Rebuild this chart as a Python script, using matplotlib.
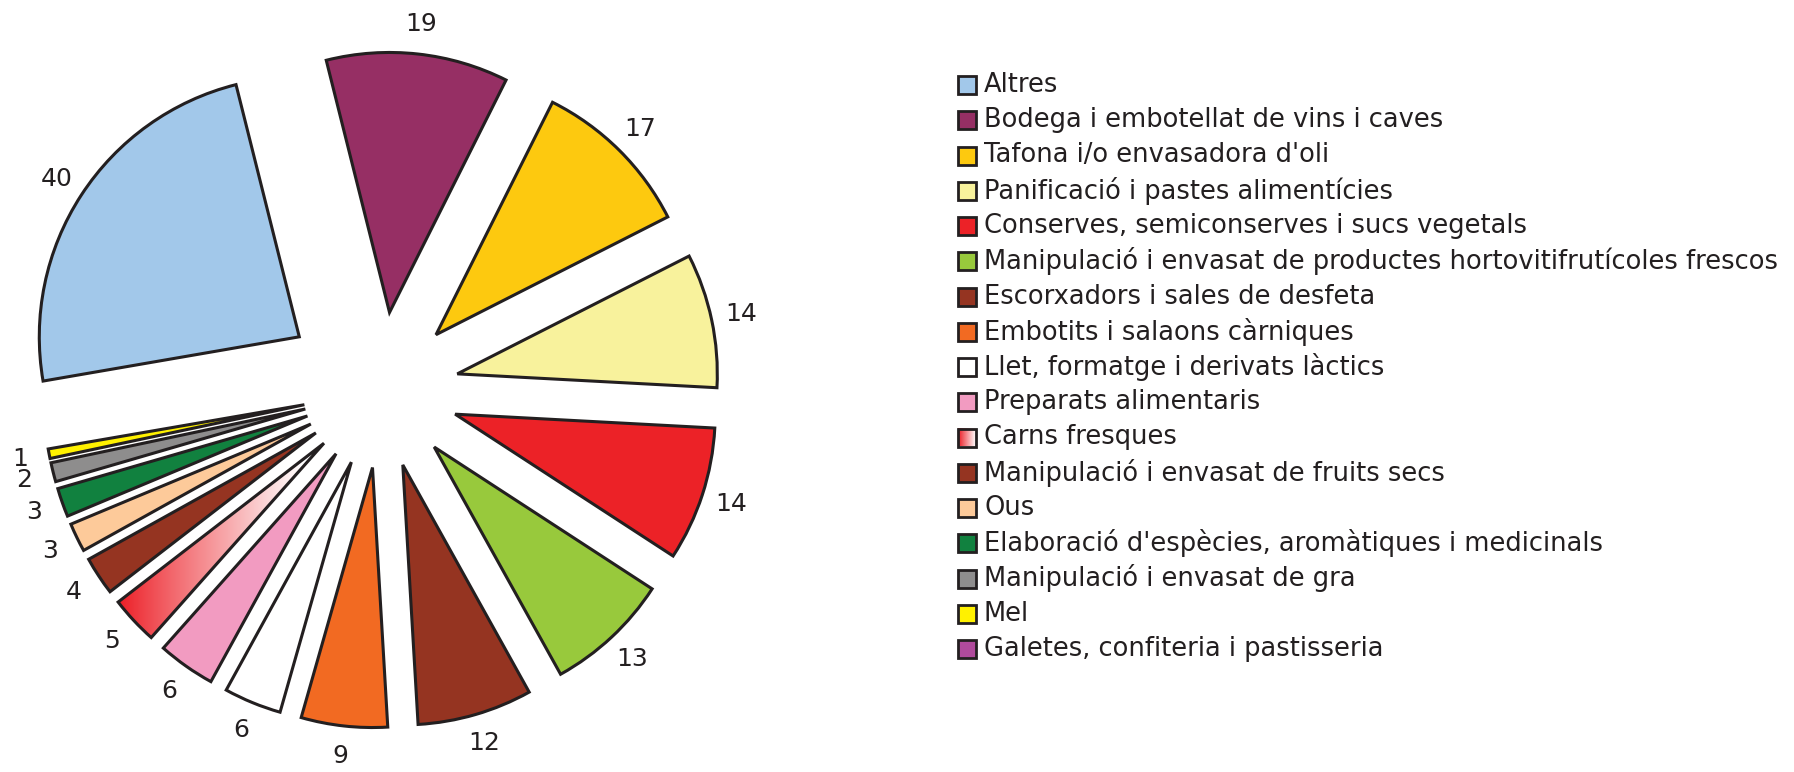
import matplotlib
matplotlib.use("Agg")
from matplotlib import pyplot as plt
from matplotlib.patches import Rectangle
from matplotlib.colors import LinearSegmentedColormap
import numpy as np

labels = [
    "Altres",
    "Bodega i embotellat de vins i caves",
    "Tafona i/o envasadora d'oli",
    "Panificació i pastes alimentícies",
    "Conserves, semiconserves i sucs vegetals",
    "Manipulació i envasat de productes hortovitifrutícoles frescos",
    "Escorxadors i sales de desfeta",
    "Embotits i salaons càrniques",
    "Llet, formatge i derivats làctics",
    "Preparats alimentaris",
    "Carns fresques",
    "Manipulació i envasat de fruits secs",
    "Ous",
    "Elaboració d'espècies, aromàtiques i medicinals",
    "Manipulació i envasat de gra",
    "Mel",
    "Galetes, confiteria i pastisseria",
]
values = [40, 19, 17, 14, 14, 13, 12, 9, 6, 6, 5, 4, 3, 3, 2, 1, 0]
colors = [
    "#A2C8EA", "#962F64", "#FDC90F", "#F8F29C", "#EC2227", "#98C93C",
    "#953421", "#F26A22", "#FFFFFF", "#F29BC1", "gradient", "#953421",
    "#FDCA9A", "#11813F", "#8E8D8D", "#FFF100", "#B04A9C",
]

INK = "#231F20"
RED = "#EC1C24"
W, H = 1794, 772
CX, CY, R = 381, 390, 260  # pie centre and radius in pixels

fig = plt.figure(figsize=(W / 100, H / 100), dpi=100)
ax = fig.add_axes([0, 0, 1, 1])

# only non-zero categories get a wedge
idx = [i for i, v in enumerate(values) if v > 0]
pie_vals = [values[i] for i in idx]
pie_cols = ["none" if colors[i] == "gradient" else colors[i] for i in idx]
explode = [0.375 if i == 0 else 0.30 for i in idx]

wedges, texts = ax.pie(
    pie_vals, colors=pie_cols, explode=explode, labels=[str(v) for v in pie_vals],
    startangle=189.8, counterclock=False, radius=1.0, labeldistance=1.115,
    wedgeprops=dict(edgecolor=INK, linewidth=2.2, joinstyle="miter"),
    textprops=dict(fontsize=18, color=INK),
)
for t in texts:
    t.set_ha("center")
    t.set_va("center")

# red-to-white fill for "Carns fresques"
cmap = LinearSegmentedColormap.from_list("carns", [RED, "#FFFFFF"])
for j, i in enumerate(idx):
    if colors[i] != "gradient":
        continue
    w = wedges[j]
    w.set_zorder(3)
    verts = w.get_path().transformed(w.get_patch_transform()).vertices
    x0, x1 = verts[:, 0].min(), verts[:, 0].max()
    y0, y1 = verts[:, 1].min(), verts[:, 1].max()
    grad = np.linspace(0, 1, 256)[None, :] ** 0.9
    im = ax.imshow(grad, cmap=cmap, extent=(x0, x1 - 0.1 * (x1 - x0), y0, y1),
                   aspect="auto", zorder=2)
    im.set_clip_path(w)

ax.set_xlim(-CX / R, (W - CX) / R)
ax.set_ylim((CY - H) / R, CY / R)
ax.set_aspect("auto")
ax.axis("off")

# legend in pixel coordinates
lax = fig.add_axes([0, 0, 1, 1])
lax.set_xlim(0, W)
lax.set_ylim(H, 0)
lax.axis("off")
lx, ly0, step, sq = 958, 85, 35.25, 18
for k, (lab, col) in enumerate(zip(labels, colors)):
    yc = ly0 + k * step
    if col == "gradient":
        g = np.linspace(0, 1, 64)[None, :]
        lax.imshow(g, cmap=cmap, extent=(lx, lx + sq, yc + sq / 2, yc - sq / 2),
                   aspect="auto", zorder=1)
        face = "none"
    else:
        face = col
    lax.add_patch(Rectangle((lx, yc - sq / 2), sq, sq, facecolor=face,
                            edgecolor=INK, linewidth=2, zorder=2))
    lax.text(lx + sq + 8, yc, lab, fontsize=18.5, color=INK, ha="left", va="center")
lax.set_xlim(0, W)
lax.set_ylim(H, 0)

fig.savefig("out.png", dpi=100, facecolor="white")
